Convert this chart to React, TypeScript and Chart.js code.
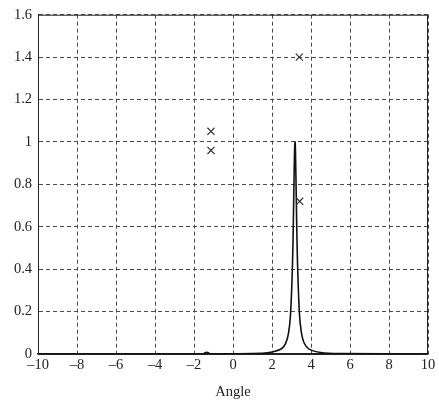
import React, { useEffect, useRef } from "react";
import { Chart, registerables } from "chart.js";

Chart.register(...registerables);

// Response curve (Angle, value)
const curveX = [-10, -1.55, -1.45, -1.35, -1.25, -1.15, 1.5, 2.0, 2.5, 2.7, 2.85, 2.95, 3.05, 3.1, 3.15, 3.18, 3.2, 3.25, 3.3, 3.4, 3.5, 3.65, 3.9, 4.5, 5.5, 10];
const curveY = [0, 0, 0.005, 0.008, 0.005, 0, 0.003, 0.009, 0.026, 0.05, 0.1, 0.186, 0.42, 0.65, 0.93, 1.0, 0.97, 0.71, 0.46, 0.2, 0.106, 0.052, 0.023, 0.007, 0.002, 0];

// Cross markers
const markX = [-1.13, -1.13, 3.4, 3.42];
const markY = [1.05, 0.96, 1.4, 0.72];

const xTicks = [-10, -8, -6, -4, -2, 0, 2, 4, 6, 8, 10];
const yTicks = [0, 0.2, 0.4, 0.6, 0.8, 1, 1.2, 1.4, 1.6];
const xTitle = "Angle";

const FONT = "'Liberation Serif', 'DejaVu Serif', serif";

export default function App() {
  const ref = useRef<HTMLCanvasElement | null>(null);
  useEffect(() => {
    if (!ref.current) return;
    const frame = {
      id: "frame",
      afterDraw(chart: any) {
        const { ctx, chartArea } = chart;
        ctx.save();
        ctx.strokeStyle = "#222";
        ctx.lineWidth = 1;
        ctx.setLineDash([]);
        ctx.strokeRect(chartArea.left + 0.5, chartArea.top + 0.5, chartArea.right - chartArea.left - 1, chartArea.bottom - chartArea.top);
        ctx.restore();
      },
    };
    const chart = new Chart(ref.current, {
      type: "scatter",
      data: {
        datasets: [
          {
            data: curveX.map((x, i) => ({ x, y: curveY[i] })),
            showLine: true,
            borderColor: "#111",
            borderWidth: 1.6,
            pointRadius: 0,
            tension: 0.3,
            order: 1,
          },
          {
            data: markX.map((x, i) => ({ x, y: markY[i] })),
            showLine: false,
            pointStyle: "crossRot",
            pointRadius: 5,
            borderColor: "#333",
            backgroundColor: "#333",
            borderWidth: 1.2,
            order: 0,
          },
        ],
      },
      options: {
        responsive: false,
        animation: false,
        layout: { padding: { top: 14, right: 11, left: 0, bottom: 0 } },
        plugins: { legend: { display: false }, tooltip: { enabled: false } },
        scales: {
          x: {
            type: "linear",
            min: -10,
            max: 10,
            afterBuildTicks: (s: any) => {
              s.ticks = xTicks.map((v) => ({ value: v }));
            },
            afterFit: (s: any) => {
              s.height = 47;
            },
            ticks: {
              color: "#222",
              font: { family: FONT, size: 14.5 },
              padding: 2,
              maxRotation: 0,
              callback: (v: any) => (v < 0 ? "\u2013" + Math.abs(v) : String(v)),
            },
            grid: { color: "#4a4a4a", lineWidth: 1, drawTicks: false },
            border: { display: true, color: "#222", width: 1.5, dash: [4, 3] },
            title: { display: true, text: xTitle, color: "#222", font: { family: FONT, size: 14.5 }, padding: { top: 3, bottom: 0 } },
          },
          y: {
            type: "linear",
            min: 0,
            max: 1.6,
            afterBuildTicks: (s: any) => {
              s.ticks = yTicks.map((v) => ({ value: v }));
            },
            afterFit: (s: any) => {
              s.width = 38;
            },
            ticks: {
              color: "#222",
              font: { family: FONT, size: 14.5 },
              padding: 6,
              callback: (v: any) => String(Number(Number(v).toFixed(1))),
            },
            grid: { color: "#4a4a4a", lineWidth: 1, drawTicks: false },
            border: { display: true, color: "#222", width: 1, dash: [4, 3] },
          },
        },
      },
      plugins: [frame],
    } as any);
    return () => chart.destroy();
  }, []);
  return (
    <div style={{ position: "absolute", left: 0, top: 0, width: 439, height: 401, background: "#fff" }}>
      <canvas ref={ref} width={439} height={401} style={{ width: 439, height: 401 }} />
    </div>
  );
}
